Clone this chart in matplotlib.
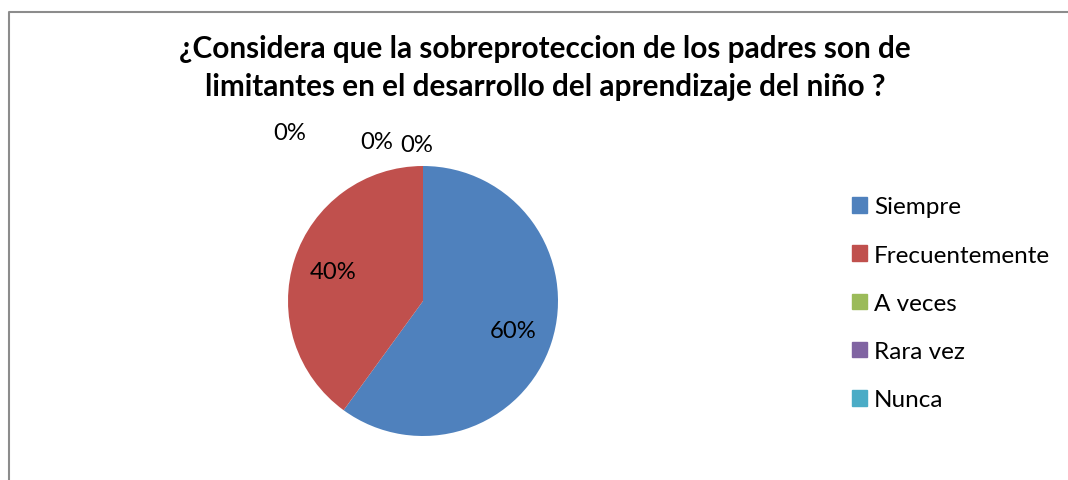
import numpy as np
import matplotlib.pyplot as plt
from matplotlib.patches import Rectangle
from matplotlib.lines import Line2D

# data
categories = ['Siempre', 'Frecuentemente', 'A veces', 'Rara vez', 'Nunca']
percent = [60, 40, 0, 0, 0]
colors = ['#4F81BD', '#C0504D', '#9BBB59', '#8064A2', '#4BACC6']
title = '¿Considera que la sobreproteccion de los padres son de\nlimitantes en el desarrollo del aprendizaje del niño ?'

plt.rcParams['font.family'] = ['Lato', 'DejaVu Sans']

W, H = 1068, 481
fig = plt.figure(figsize=(W / 100, H / 100), dpi=100)

# chart frame: only left and top edges are inside the picture
fx, fy = 8.5 / W, 1 - 12.5 / H
fig.lines.append(Line2D([fx, fx, 1.01], [-0.01, fy, fy], transform=fig.transFigure,
                        color='#8c8c8c', linewidth=1.5))

fig.text(545 / W, 1 - 68 / H, title, ha='center', va='center',
         fontsize=21.4, fontweight='bold', linespacing=1.45)

# pie axes: center (423, 302), radius 135 px
cx, cy, r = 423, 302, 135
ax = fig.add_axes([(cx - r) / W, (H - cy - r) / H, 2 * r / W, 2 * r / H])
wedges, _ = ax.pie(percent, colors=colors, startangle=90, counterclock=False,
                   radius=1, wedgeprops=dict(linewidth=0))
ax.set_xlim(-1, 1)
ax.set_ylim(-1, 1)
ax.set_aspect('equal')
ax.axis('off')

# percentage labels: non-zero at 0.7 r on the wedge bisector,
# zero slices pushed out above the pie like Excel's best fit
zero_offsets = [(-0.985, 1.25), (-0.34, 1.18), (-0.05, 1.16)]
zi = 0
for w, p in zip(wedges, percent):
    if p > 0:
        ang = np.deg2rad((w.theta1 + w.theta2) / 2)
        x, y = 0.7 * np.cos(ang), 0.7 * np.sin(ang)
    else:
        x, y = zero_offsets[zi]
        zi += 1
    ax.text(x, y, f'{p}%', ha='center', va='center', fontsize=17.2, clip_on=False)

# legend
handles = [Rectangle((0, 0), 1, 1, color=c) for c in colors]
fig.legend(handles, categories, loc='upper left', bbox_to_anchor=(852 / W, 1 - 197.5 / H),
           frameon=False, fontsize=17.5, handlelength=0.6, handleheight=0.6,
           handletextpad=0.3, labelspacing=1.12, borderpad=0, borderaxespad=0)

fig.savefig('out.png', dpi=100)
